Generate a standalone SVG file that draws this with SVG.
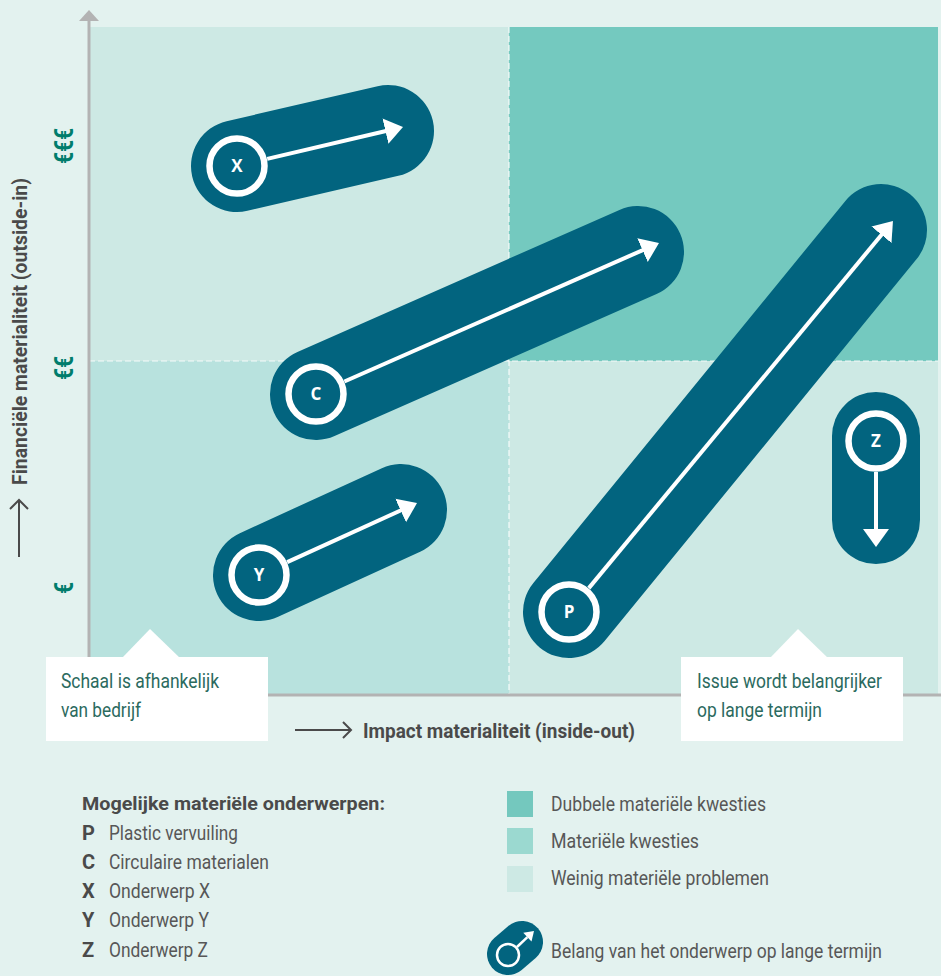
<svg xmlns="http://www.w3.org/2000/svg" width="941" height="976" viewBox="0 0 941 976">
<defs>
<style>
.pill{fill:none;stroke:#02647f;stroke-linecap:round}
.ring{fill:#02647f;stroke:#fff;stroke-width:6.5}
.lbl{font-family:"Open Sans","Liberation Sans",sans-serif;font-weight:700;font-size:17px;fill:#fff;text-anchor:middle}
.arr{stroke:#fff;stroke-width:4;fill:none}
.call{font-family:Roboto,"Liberation Sans",sans-serif;font-size:20px;fill:#2b6a5e}
.axl{font-family:Roboto,"Liberation Sans",sans-serif;font-weight:700;font-size:21px;fill:#4a4a4a}
.eur{font-family:Roboto,"Liberation Sans",sans-serif;font-weight:700;font-size:26px;fill:#007d6c;text-anchor:middle}
.lt{font-family:Roboto,"Liberation Sans",sans-serif;font-size:20px;fill:#575757}
.lb{font-family:Roboto,"Liberation Sans",sans-serif;font-weight:700;font-size:20px;fill:#4a4a4a}
.dash{stroke:#fff;stroke-width:1.2;stroke-dasharray:6 3;opacity:0.85}
</style>
<marker id="ah" markerUnits="userSpaceOnUse" markerWidth="20" markerHeight="28" viewBox="0 -14 20 28" refX="6" refY="0" orient="auto">
<path d="M0,-13 L18,0 L0,13 z" fill="#fff"/>
</marker>
</defs>
<rect x="0" y="0" width="941" height="976" fill="#e3f2ef"/>
<g id="plot">
<rect x="89" y="27" width="420" height="334" fill="#cde9e4"/>
<rect x="509" y="27" width="429" height="334" fill="#74c9bf"/>
<rect x="89" y="361" width="420" height="334" fill="#b8e2de"/>
<rect x="509" y="361" width="429" height="334" fill="#cde9e4"/>
<line class="dash" x1="509" y1="27" x2="509" y2="695"/>
<line class="dash" x1="89" y1="361" x2="938" y2="361"/>
<line x1="89" y1="20" x2="89" y2="696" stroke="#b3b3b3" stroke-width="3"/>
<polygon points="89,10 79,21 99,21" fill="#b3b3b3"/>
<line x1="89" y1="695" x2="941" y2="695" stroke="#b3b3b3" stroke-width="3"/>
</g>
<g id="axis-labels">
<text class="axl" transform="translate(27,485) rotate(-90)" textLength="307" lengthAdjust="spacingAndGlyphs">Financiële materialiteit (outside-in)</text>
<line x1="19" y1="557" x2="19" y2="500" stroke="#4a4a4a" stroke-width="2"/>
<polyline points="10,509 19,500 28,509" fill="none" stroke="#4a4a4a" stroke-width="2"/>
<text class="eur" transform="translate(73,146) rotate(-90)" textLength="36" lengthAdjust="spacingAndGlyphs">€€€</text>
<text class="eur" transform="translate(73,368) rotate(-90)" textLength="24" lengthAdjust="spacingAndGlyphs">€€</text>
<text class="eur" transform="translate(73,588) rotate(-90)" textLength="12" lengthAdjust="spacingAndGlyphs">€</text>
<line x1="295" y1="730" x2="351" y2="730" stroke="#4a4a4a" stroke-width="2"/>
<polyline points="343,722 351,730 343,738" fill="none" stroke="#4a4a4a" stroke-width="2"/>
<text class="axl" x="363" y="738" textLength="272" lengthAdjust="spacingAndGlyphs">Impact materialiteit (inside-out)</text>
</g>
<g id="node-X">
<line class="pill" x1="237" y1="166" x2="388" y2="131" stroke-width="92"/>
<circle class="ring" cx="237" cy="166" r="27.5"/>
<text class="lbl" x="237" y="172">X</text>
</g>
<g id="node-C">
<line class="pill" x1="316" y1="394" x2="638" y2="252" stroke-width="92"/>
<circle class="ring" cx="316" cy="394" r="27.5"/>
<text class="lbl" x="316" y="400">C</text>
</g>
<g id="node-Y">
<line class="pill" x1="259" y1="575" x2="401" y2="510" stroke-width="92"/>
<circle class="ring" cx="259" cy="575" r="27.5"/>
<text class="lbl" x="259" y="581">Y</text>
</g>
<g id="node-P">
<line class="pill" x1="569" y1="612" x2="881" y2="230" stroke-width="92"/>
<circle class="ring" cx="569" cy="612" r="27.5"/>
<text class="lbl" x="569" y="618">P</text>
</g>
<g id="node-Z">
<line class="pill" x1="876" y1="436" x2="876" y2="520" stroke-width="88"/>
<circle class="ring" cx="876" cy="441" r="27.5"/>
<text class="lbl" x="876" y="447">Z</text>
</g>
<g id="connectors">
<line class="arr" x1="267.2" y1="158.9" x2="391.3" y2="129.7" marker-end="url(#ah)"/>
<line class="arr" x1="344.4" y1="381.5" x2="648.0" y2="247.8" marker-end="url(#ah)"/>
<line class="arr" x1="287.2" y1="562.1" x2="406.1" y2="508.0" marker-end="url(#ah)"/>
<line class="arr" x1="588.8" y1="588.1" x2="885.3" y2="230.2" marker-end="url(#ah)"/>
<line class="arr" x1="876" y1="472" x2="876" y2="535" marker-end="url(#ah)"/>
</g>
<g id="callout-scale">
<polygon points="150,629 122,658 180,658" fill="#fff"/>
<rect x="46" y="657" width="222" height="84" fill="#fff"/>
<text class="call" x="61" y="688" textLength="158" lengthAdjust="spacingAndGlyphs">Schaal is afhankelijk</text>
<text class="call" x="61" y="717" textLength="80" lengthAdjust="spacingAndGlyphs">van bedrijf</text>
</g>
<g id="callout-issue">
<polygon points="798,629 770,658 828,658" fill="#fff"/>
<rect x="681" y="657" width="222" height="84" fill="#fff"/>
<text class="call" x="697" y="688" textLength="185" lengthAdjust="spacingAndGlyphs">Issue wordt belangrijker</text>
<text class="call" x="697" y="717" textLength="125" lengthAdjust="spacingAndGlyphs">op lange termijn</text>
</g>
<g id="legend-topics">
<text class="lb" x="82" y="810" style="font-size:19px" textLength="303" lengthAdjust="spacingAndGlyphs">Mogelijke materiële onderwerpen:</text>
<text class="lb" x="82" y="840">P</text><text class="lt" x="109" y="840" textLength="129" lengthAdjust="spacingAndGlyphs">Plastic vervuiling</text>
<text class="lb" x="82" y="869">C</text><text class="lt" x="109" y="869" textLength="160" lengthAdjust="spacingAndGlyphs">Circulaire materialen</text>
<text class="lb" x="82" y="898">X</text><text class="lt" x="109" y="898" textLength="101" lengthAdjust="spacingAndGlyphs">Onderwerp X</text>
<text class="lb" x="82" y="927">Y</text><text class="lt" x="109" y="927" textLength="100" lengthAdjust="spacingAndGlyphs">Onderwerp Y</text>
<text class="lb" x="82" y="957">Z</text><text class="lt" x="109" y="957" textLength="99" lengthAdjust="spacingAndGlyphs">Onderwerp Z</text>
</g>
<g id="legend-colours">
<rect x="507" y="791" width="26" height="26" fill="#74c8be"/>
<text class="lt" x="551" y="811" textLength="215" lengthAdjust="spacingAndGlyphs">Dubbele materiële kwesties</text>
<rect x="507" y="828" width="26" height="26" fill="#9bd9d0"/>
<text class="lt" x="551" y="848" textLength="148" lengthAdjust="spacingAndGlyphs">Materiële kwesties</text>
<rect x="507" y="866" width="26" height="26" fill="#cde9e4"/>
<text class="lt" x="551" y="885" textLength="218" lengthAdjust="spacingAndGlyphs">Weinig materiële problemen</text>
</g>
<g id="legend-pill">
<line class="pill" x1="508" y1="954" x2="522" y2="942" stroke-width="42"/>
<circle cx="508" cy="955" r="11" fill="none" stroke="#fff" stroke-width="2.5"/>
<line x1="517" y1="947" x2="527.4" y2="937.1" stroke="#fff" stroke-width="2.5"/>
<polygon points="534,931 531.5,941.5 523.3,932.7" fill="#fff"/>
<text class="lt" x="551" y="958" textLength="331" lengthAdjust="spacingAndGlyphs">Belang van het onderwerp op lange termijn</text>
</g>
</svg>
